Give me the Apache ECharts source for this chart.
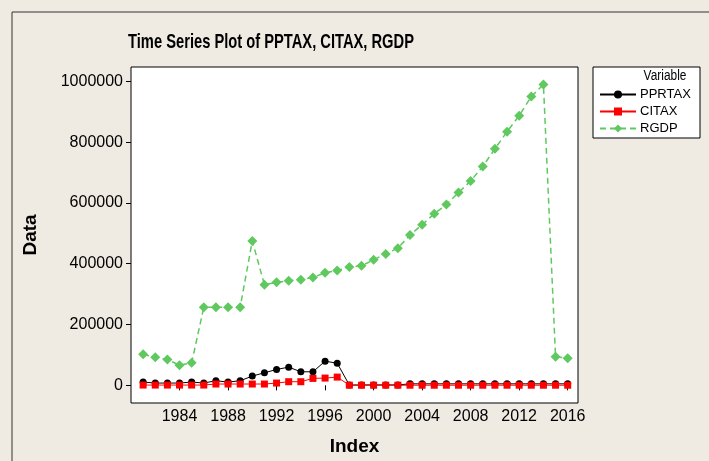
<!DOCTYPE html>
<html>
<head>
<meta charset="utf-8">
<script src="https://cdn.jsdelivr.net/npm/echarts@6/dist/echarts.min.js"></script>
<style>
  html, body { margin: 0; padding: 0; background: #efebe2; }
  #main { width: 709px; height: 461px; }
</style>
</head>
<body>
<div id="main"></div>
<script>
// years on the Index axis
const years = [1981, 1982, 1983, 1984, 1985, 1986, 1987, 1988, 1989, 1990,
    1991, 1992, 1993, 1994, 1995, 1996, 1997, 1998, 1999, 2000,
    2001, 2002, 2003, 2004, 2005, 2006, 2007, 2008, 2009, 2010,
    2011, 2012, 2013, 2014, 2015, 2016];

const pprtax = [10900, 7600, 7600, 7600, 10900, 7600, 15200, 10900, 15200, 30500,
    41400, 52300, 59900, 44700, 44700, 79500, 73000, 1000, 1500, 1500,
    1500, 1500, 5000, 5000, 5000, 5000, 5000, 5000, 5000, 5000,
    5000, 5000, 5000, 5000, 5000, 5000];

const citax = [1000, 1000, 1000, 1000, 1000, 1000, 4400, 4400, 4400, 4400,
    4400, 7600, 12000, 12000, 22900, 24000, 27200, 500, 500, 500,
    500, 500, 500, 500, 500, 500, 500, 500, 500, 500,
    500, 500, 500, 500, 500, 500];

const rgdp = [102400, 92600, 85000, 66400, 74100, 257000, 257000, 257000, 257000, 475000,
    331000, 338800, 344200, 347500, 355100, 370400, 378000, 388900, 393200, 412900,
    432400, 451000, 494600, 528300, 564200, 594800, 634000, 672100, 720000, 777800,
    834400, 886700, 949900, 989100, 93700, 89300];

const xTicks = [1984, 1988, 1992, 1996, 2000, 2004, 2008, 2012, 2016];
const yTicks = [0, 200000, 400000, 600000, 800000, 1000000];

function pairs(vals) {
    return years.map((y, i) => [y, vals[i]]);
}

const chart = echarts.init(document.getElementById('main'));

const labelFont = 'Liberation Sans, Arial, sans-serif';
const narrowFont = 'Liberation Sans Narrow, Arial Narrow, Liberation Sans, sans-serif';

chart.setOption({
    backgroundColor: '#efebe2',
    animation: false,
    graphic: [
        {
            type: 'rect',
            shape: { x: 12, y: 12, width: 720, height: 470 },
            style: { fill: 'none', stroke: '#333', lineWidth: 1 },
            silent: true
        },
        {
            type: 'text',
            x: 271,
            y: 42,
            scaleX: 0.7,
            style: {
                text: 'Time Series Plot of PPTAX, CITAX, RGDP',
                font: 'bold 21px ' + narrowFont,
                fill: '#000',
                align: 'center',
                verticalAlign: 'middle'
            }
        },
        {
            type: 'rect',
            shape: { x: 593, y: 67, width: 107, height: 71 },
            style: { fill: '#fff', stroke: '#000', lineWidth: 1 },
            silent: true
        },
        {
            type: 'text',
            x: 665,
            y: 76,
            scaleX: 0.85,
            style: {
                text: 'Variable',
                font: '14px ' + narrowFont,
                fill: '#000',
                align: 'center',
                verticalAlign: 'middle'
            }
        }
    ],
    legend: {
        orient: 'vertical',
        left: 599,
        top: 88,
        itemWidth: 36,
        itemHeight: 10,
        itemGap: 4,
        padding: 0,
        textStyle: { fontFamily: narrowFont, fontSize: 13, color: '#000', padding: [0, 0, 0, -1] },
        data: ['PPRTAX', 'CITAX', 'RGDP']
    },
    grid: {
        left: 131,
        top: 67,
        right: 131,
        bottom: 56,
        show: true,
        backgroundColor: '#fff',
        borderColor: '#000',
        borderWidth: 1
    },
    xAxis: {
        type: 'value',
        min: 1980,
        max: 2016.85,
        name: 'Index',
        nameLocation: 'middle',
        nameGap: 34,
        nameTextStyle: { fontFamily: narrowFont, fontWeight: 'bold', fontSize: 19, color: '#000' },
        axisLine: { show: false },
        splitLine: { show: false },
        axisTick: { show: true, customValues: xTicks, length: 5, lineStyle: { color: '#000' } },
        axisLabel: {
            customValues: xTicks,
            formatter: v => String(v),
            fontFamily: labelFont,
            fontSize: 16,
            color: '#000',
            margin: 6
        }
    },
    yAxis: {
        type: 'value',
        min: -58000,
        max: 1047000,
        name: 'Data',
        nameLocation: 'middle',
        nameGap: 91,
        nameRotate: 90,
        nameTextStyle: { fontFamily: narrowFont, fontWeight: 'bold', fontSize: 19, color: '#000' },
        axisLine: { show: false },
        splitLine: { show: false },
        axisTick: { show: true, customValues: yTicks, length: 5, lineStyle: { color: '#000' } },
        axisLabel: {
            customValues: yTicks,
            formatter: v => String(v),
            fontFamily: labelFont,
            fontSize: 16,
            color: '#000',
            margin: 8
        }
    },
    series: [
        {
            name: 'PPRTAX',
            type: 'line',
            data: pairs(pprtax),
            symbol: 'circle',
            symbolSize: 7,
            color: '#000',
            lineStyle: { color: '#000', width: 1 },
            itemStyle: { color: '#000' }
        },
        {
            name: 'CITAX',
            type: 'line',
            data: pairs(citax),
            symbol: 'rect',
            symbolSize: 7,
            color: '#ff0000',
            lineStyle: { color: '#ff0000', width: 1 },
            itemStyle: { color: '#ff0000' }
        },
        {
            name: 'RGDP',
            type: 'line',
            data: pairs(rgdp),
            symbol: 'diamond',
            symbolSize: 10,
            color: '#5fc95f',
            lineStyle: { color: '#5fc95f', width: 1.5, type: [6, 4] },
            itemStyle: { color: '#5fc95f' }
        }
    ]
});
</script>
</body>
</html>
